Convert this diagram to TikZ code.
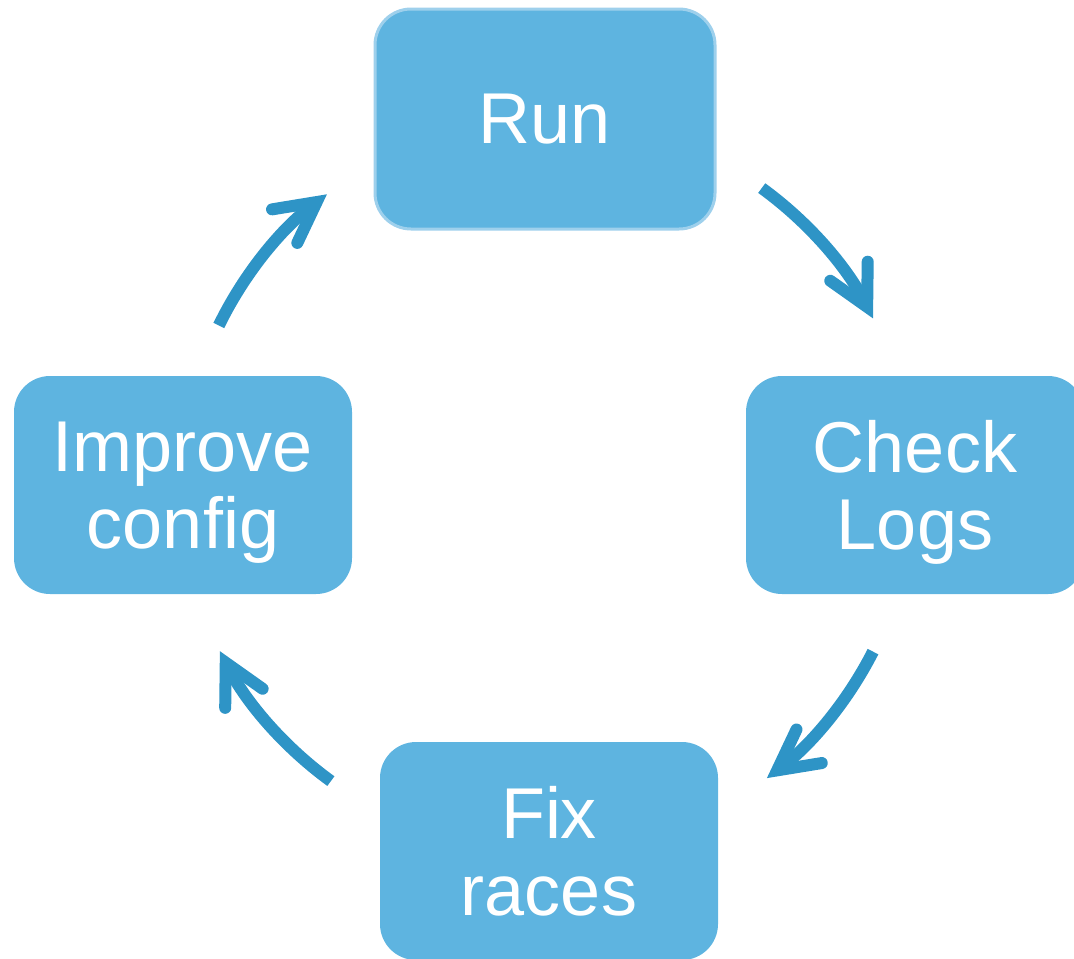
\documentclass[tikz,border=0pt]{standalone}
\usepackage{fontspec}
\setmainfont{Liberation Sans}
\usetikzlibrary{arrows.meta}
\definecolor{boxblue}{RGB}{94,180,224}
\definecolor{rimblue}{RGB}{158,208,236}
\definecolor{arrowblue}{RGB}{46,148,198}
\tikzset{
  stage/.style={fill=boxblue, rounded corners=18pt, minimum width=169pt,
    minimum height=109pt, inner sep=0pt, align=center, text=white,
    font=\fontsize{36}{38.5}\selectfont},
  cyc/.style={draw=arrowblue, line width=6pt, line cap=butt,
    -{Straight Barb[length=20pt, width=21pt, line cap=round, line join=miter]}}
}
% hide the descenders of a last line so the label sits centred on its caps
\newcommand{\nodepth}[1]{\raisebox{0pt}[\height][0pt]{#1}}
\begin{document}
\begin{tikzpicture}[x=0.5pt, y=-0.5pt]
  \useasboundingbox (0,0) rectangle (1074,958);
  \clip (0,0) rectangle (1074,958);

  % the four stages of the cycle
  \node[stage, draw=rimblue, line width=1.5pt, minimum width=170pt, minimum height=110pt]
    (run) at (545,119) {Run};
  \node[stage] (check) at (915,485) {Check\\\nodepth{Logs}};
  \node[stage] (fix) at (549,851) {Fix\\races};
  \node[stage] (improve) at (183,485) {Improve\\\nodepth{config}};

  % circular arrows around the common centre
  \coordinate (c) at (546,485);
  \path (c) ++(-54:367) coordinate (a1);
  \path (c) ++(27:367) coordinate (a2);
  \path (c) ++(126:366) coordinate (a3);
  \path (c) ++(206:364) coordinate (a4);

  \draw[cyc] (a1) arc[start angle=-54, end angle=-27, radius=367];
  \draw[cyc] (a2) arc[start angle=27, end angle=53, radius=367];
  \draw[cyc] (a3) arc[start angle=126, end angle=153, radius=366];
  \draw[cyc] (a4) arc[start angle=206, end angle=233, radius=364];
\end{tikzpicture}
\end{document}
